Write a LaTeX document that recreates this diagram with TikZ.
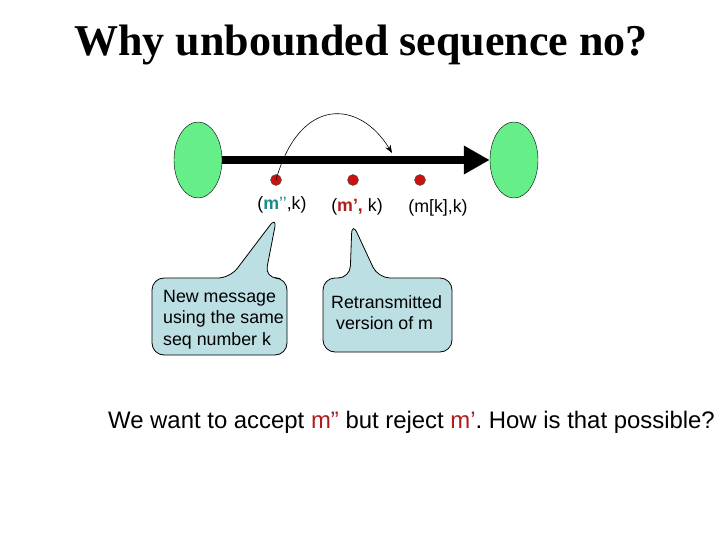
\documentclass[tikz,border=0pt]{standalone}
\usepackage{fontspec}
\setmainfont{Liberation Sans}
\newfontfamily\titlefont{Liberation Serif}
\usetikzlibrary{arrows.meta}
\definecolor{nodegreen}{HTML}{66EE88}
\definecolor{calloutblue}{HTML}{BCDFE4}
\definecolor{dotred}{HTML}{CC1111}
\definecolor{mred}{HTML}{B01C1C}
\definecolor{mteal}{HTML}{1A8A8A}
\tikzset{
  endpoint/.style={ellipse, draw=black, fill=nodegreen, minimum width=48pt, minimum height=76pt, inner sep=0pt},
  msgdot/.style={circle, draw=black!70, fill=dotred, minimum size=11pt, inner sep=0pt},
  msglabel/.style={font=\fontsize{17.8}{20}\selectfont, inner sep=0pt},
  callout/.style={draw=black, fill=calloutblue, rounded corners=12pt, line width=0.8pt},
  callouttext/.style={font=\fontsize{17.8}{21.5}\selectfont, align=left, inner sep=0pt, anchor=north west},
}
\usetikzlibrary{shapes.geometric}
\frenchspacing
\begin{document}
\begin{tikzpicture}[x=1pt,y=-1pt]
\useasboundingbox (0,0) rectangle (720,540);
\node[font=\titlefont\bfseries\fontsize{44}{48}\selectfont] (title) at (361,45) {Why unbounded sequence no?};
\node[endpoint] (A) at (198,160) {};
\node[endpoint] (B) at (514,160) {};
\draw[line width=8pt, -{Triangle[length=26pt,width=27pt]}] (A.east) -- (B.west);
\node[msgdot] (d1) at (276,180) {};
\node[msgdot] (d2) at (353,180) {};
\node[msgdot] (d3) at (420,180) {};
\coordinate (arrEnd) at (392,153);
\draw[line width=0.6pt, -{Stealth[length=8pt,width=6pt]}] (d1.center) .. controls (300,95) and (360,100) .. (arrEnd);
\node[msglabel] (l1) at (282,205) {(\textbf{\color{mteal}m}\textcolor{mteal}{’’},k)};
\node[msglabel] (l2) at (357,207) {(\textbf{\color{mred}m’,} k)};
\node[msglabel] (l3) at (438,208) {(m[k],k)};
% callouts
\draw[callout] (230,278) -- (277,216) -- (265,278) -- (287,278) -- (287,355) -- (152,355) -- (152,278) -- cycle;
\draw[callout] (350,278) -- (352,222) -- (378,278) -- (452,278) -- (452,352) -- (323,352) -- (323,278) -- cycle;
\node[callouttext] (c1) at (163,290) {New message\\using the same\\seq number k};
\node[callouttext] (c2) at (331,295) {Retransmitted\\\ version of m};
\node[font=\fontsize{23.9}{28}\selectfont, anchor=west, inner sep=0pt] (bottom) at (108,422) {We want to accept \textcolor{mred}{m”} but reject \textcolor{mred}{m’}. How is that possible?};
\end{tikzpicture}
\end{document}
